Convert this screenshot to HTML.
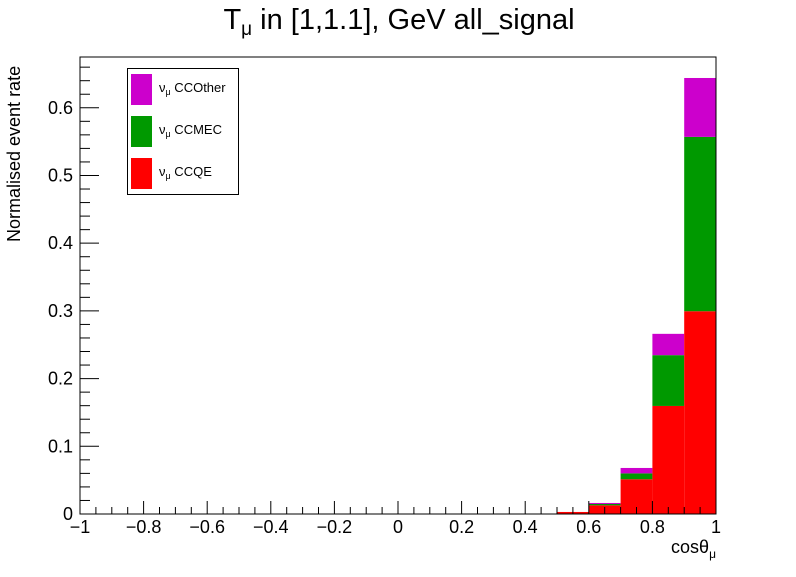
<!DOCTYPE html>
<html><head><meta charset="utf-8"><style>
html,body{margin:0;padding:0;background:#fff;}
svg text{font-family:"Liberation Sans",sans-serif;fill:#000;}
</style></head><body>
<svg id="chart" width="796" height="572" xmlns="http://www.w3.org/2000/svg">
<rect width="796" height="572" fill="#fff"/>
<text x="399" y="29" font-size="29" text-anchor="middle">T<tspan font-size="19" dy="6">μ</tspan><tspan dy="-6"> in [1,1.1], GeV all_signal</tspan></text>
<g id="bars"></g>
<rect x="80" y="57" width="636" height="457" fill="none" stroke="#000" stroke-width="1"/>
<g id="axes"></g>
<text transform="translate(20,242) rotate(-90)" font-size="18" text-anchor="start">Normalised event rate</text>
<text x="716" y="553" font-size="18" text-anchor="end">cosθ<tspan font-size="12" dy="5">μ</tspan></text>
<g>
<rect x="127.5" y="68.5" width="111" height="126" fill="#fff" stroke="#000"/>
<g><rect x="131" y="74" width="21" height="31" fill="#cc00cc"/><text x="159" y="92" font-size="13">ν<tspan font-size="9" dy="3">μ</tspan><tspan dy="-3"> CCOther</tspan></text></g>
<g><rect x="131" y="116" width="21" height="31" fill="#009900"/><text x="159" y="134" font-size="13">ν<tspan font-size="9" dy="3">μ</tspan><tspan dy="-3"> CCMEC</tspan></text></g>
<g><rect x="131" y="158" width="21" height="31" fill="#ff0000"/><text x="159" y="176" font-size="13">ν<tspan font-size="9" dy="3">μ</tspan><tspan dy="-3"> CCQE</tspan></text></g>
</g>
</svg>
<script>
const binEdges = [-1,-0.9,-0.8,-0.7,-0.6,-0.5,-0.4,-0.3,-0.2,-0.1,0,0.1,0.2,0.3,0.4,0.5,0.6,0.7,0.8,0.9,1];
const ccqe    = [0,0,0,0,0,0,0,0,0,0,0,0,0,0,0,0.003,0.0128,0.0513,0.1596,0.2995];
const ccmec   = [0,0,0,0,0,0,0,0,0,0,0,0,0,0,0,0,0.002,0.0087,0.075,0.2575];
const ccother = [0,0,0,0,0,0,0,0,0,0,0,0,0,0,0,0,0.0015,0.008,0.0315,0.087];
const xTicks = [-1,-0.8,-0.6,-0.4,-0.2,0,0.2,0.4,0.6,0.8,1];
const xTickLabels = ["−1","−0.8","−0.6","−0.4","−0.2","0","0.2","0.4","0.6","0.8","1"];
const yTicks = [0,0.1,0.2,0.3,0.4,0.5,0.6];
const yTickLabels = ["0","0.1","0.2","0.3","0.4","0.5","0.6"];

const NS="http://www.w3.org/2000/svg";
const X0=80,X1=716,Y0=514,YMAX=0.675,YTOP=57;
const xs=v=>X0+(v+1)/2*(X1-X0);
const ys=v=>Y0-v/YMAX*(Y0-YTOP);
function mk(tag,attrs,parent){const e=document.createElementNS(NS,tag);for(const k in attrs)e.setAttribute(k,attrs[k]);parent.appendChild(e);return e;}
const bars=document.getElementById('bars');
const series=[[ccqe,'#ff0000','ccqe'],[ccmec,'#009900','ccmec'],[ccother,'#cc00cc','ccother']];
for(let i=0;i<ccqe.length;i++){
  let base=0;
  for(const [arr,col,nm] of series){
    const v=arr[i];
    if(v>0){
      const r=mk('rect',{x:xs(binEdges[i]),y:ys(base+v),width:xs(binEdges[i+1])-xs(binEdges[i]),height:ys(base)-ys(base+v),fill:col},bars);
      
      
    }
    base+=v;
  }
}
const ax=document.getElementById('axes');
for(let k=0;k<=40;k++){
  const v=-1+k*0.05, major=(k%4===0);
  mk('line',{x1:xs(v),x2:xs(v),y1:Y0,y2:Y0-(major?13:7),stroke:'#000'},ax);
}
xTicks.forEach((v,i)=>{
  const t=mk('text',{x:xs(v),y:Y0+19,'font-size':18,'text-anchor':'middle'},ax);
  t.textContent=xTickLabels[i];
  
  
});
for(let k=0;k<=33;k++){
  const v=k*0.02, major=(k%5===0);
  mk('line',{x1:X0,x2:X0+(major?19:10),y1:ys(v),y2:ys(v),stroke:'#000'},ax);
}
yTicks.forEach((v,i)=>{
  const t=mk('text',{x:X0-7,y:ys(v)+6,'font-size':18,'text-anchor':'end'},ax);
  t.textContent=yTickLabels[i];
  
  
});
</script>
</body></html>
